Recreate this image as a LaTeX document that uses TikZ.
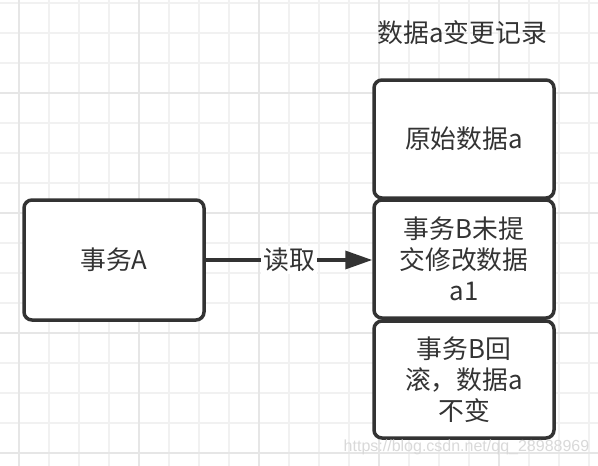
\documentclass[tikz,border=0pt]{standalone}
\usepackage{fontspec}
\setmainfont{Noto Sans CJK SC}
\newfontfamily\wmfont{Liberation Sans}
\usetikzlibrary{arrows.meta}
\definecolor{ink}{HTML}{333333}
\definecolor{gridminor}{HTML}{F1F1F1}
\definecolor{gridmajor}{HTML}{E6E6E6}
\definecolor{wm}{HTML}{D9D9D9}
\tikzset{
  box/.style={draw=ink, line width=3.5pt, rounded corners=8pt, fill=white,
    minimum width=180pt, align=center, text=ink, inner sep=4pt,
    font=\fontsize{25.8}{31}\selectfont, text width=150pt},
  lbl/.style={text=ink, font=\fontsize{25.8}{31}\selectfont},
  conn/.style={draw=ink, line width=3.5pt, -{Triangle[length=27pt,width=18pt]}},
}
\begin{document}
\begin{tikzpicture}[x=1pt,y=-1pt]
\useasboundingbox (0,0) rectangle (598,466);
\fill[white] (0,0) rectangle (598,466);
% grid
\foreach \i in {0,...,19} {
  \draw[gridminor, line width=1.3pt] ({19+30*\i},0) -- ({19+30*\i},466);
}
\foreach \i in {0,...,15} {
  \draw[gridminor, line width=1.3pt] (0,{3+30*\i}) -- (598,{3+30*\i});
}
\foreach \i in {0,...,4} {
  \draw[gridmajor, line width=1.6pt] ({19+120*\i},0) -- ({19+120*\i},466);
}
\foreach \i in {0,...,3} {
  \draw[gridmajor, line width=1.6pt] (0,{93+120*\i}) -- (598,{93+120*\i});
}
% title
\node[lbl] (title) at (462.5,33) {数据a变更记录};
% boxes
\node[box, minimum height=120pt] (A) at (114,260) {事务A};
\node[box, minimum height=118pt] (b1) at (464,139) {原始数据a};
\node[box, minimum height=118pt] (b2) at (464,259) {事务B未提\\交修改数据\\a1};
\node[box, minimum height=117pt] (b3) at (464,379.5) {事务B回\\滚，数据a\\不变};
% connector
\draw[conn] (A.east) -- (A.east -| b2.west)
  node[midway, fill=white, inner sep=2pt, text=ink, font=\fontsize{25.8}{31}\selectfont] (rd) {读取};
% watermark
\node[text=wm, font=\wmfont\fontsize{16}{18}\selectfont, inner sep=0pt] (wmk) at (466.5,447) {https://blog.csdn.net/qq\_28988969};
\end{tikzpicture}
\end{document}
